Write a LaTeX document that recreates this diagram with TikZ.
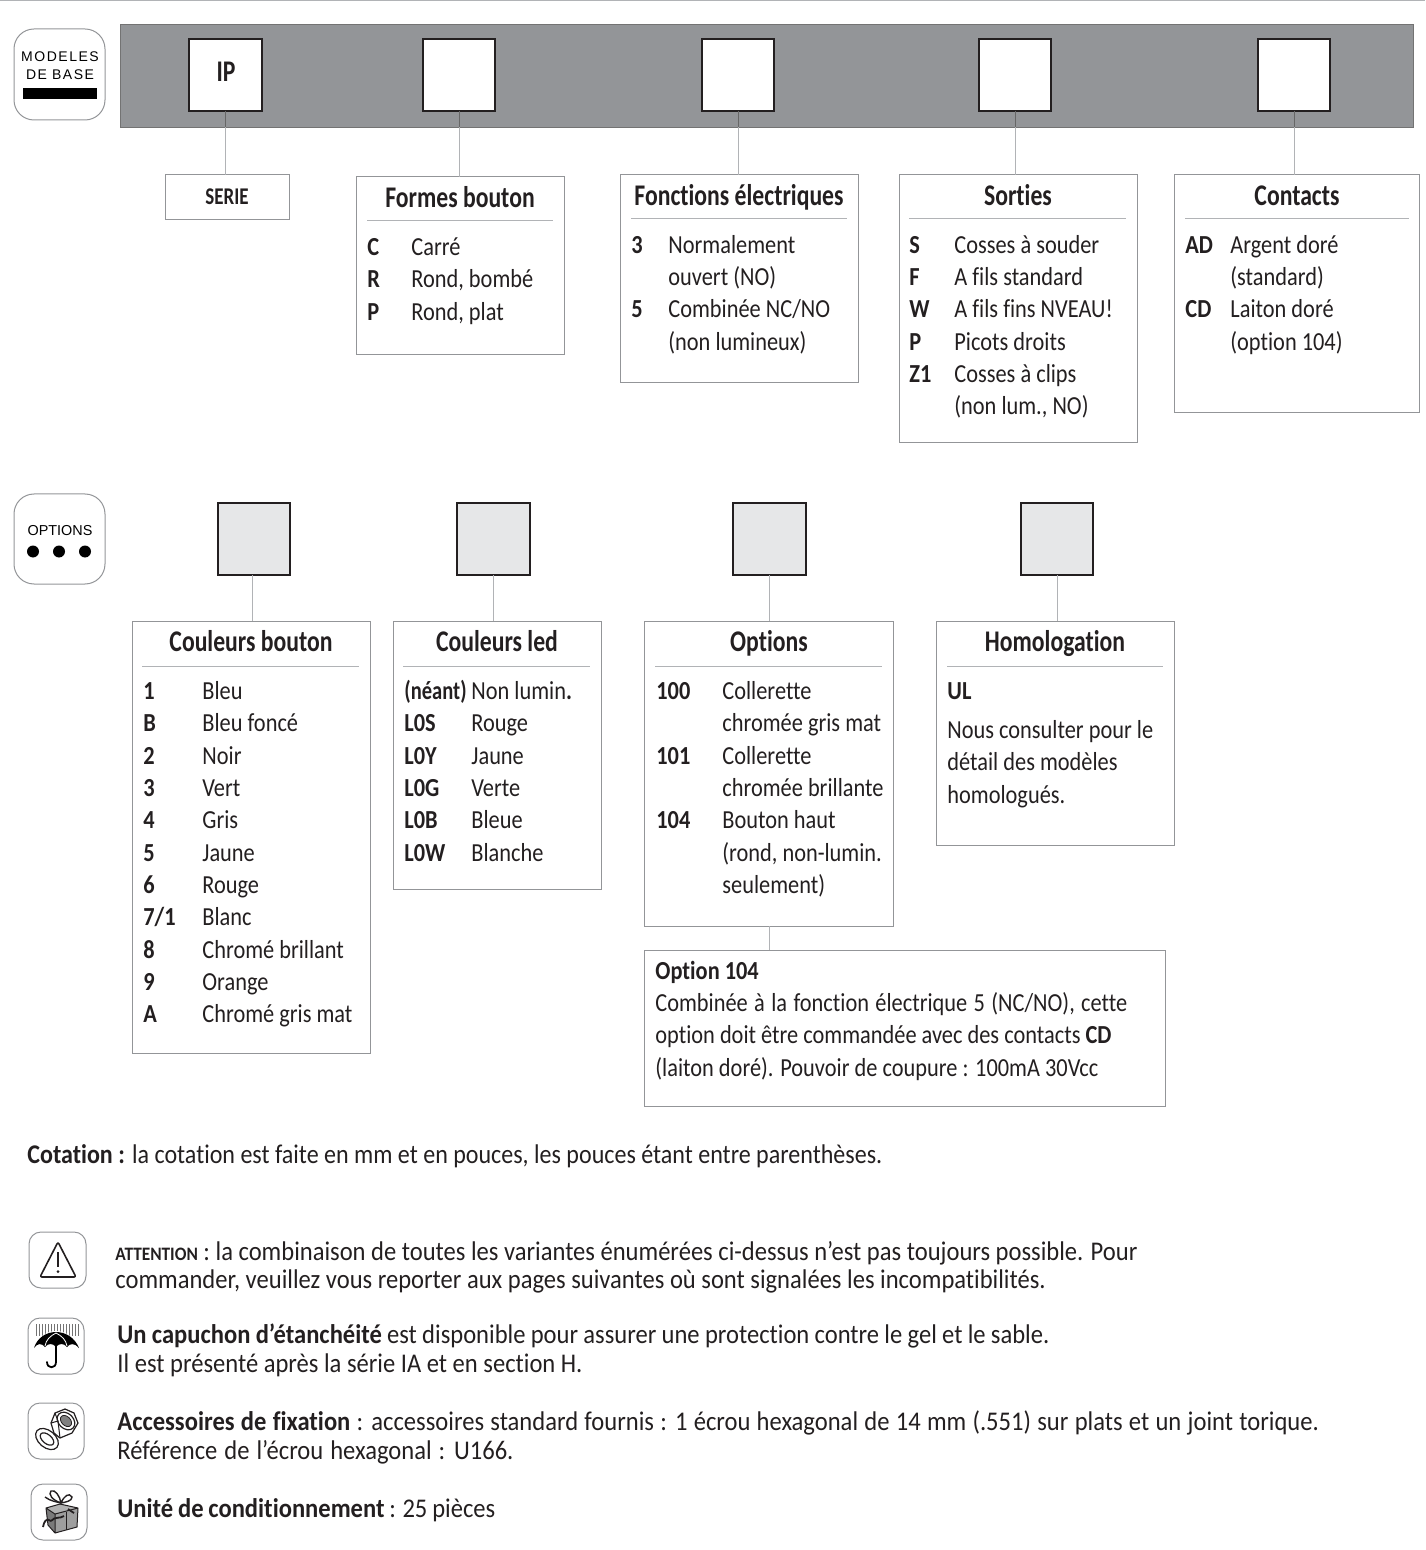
\documentclass[tikz,border=0pt]{standalone}
\usepackage{fontspec}
\setmainfont[FakeStretch=.86,Ligatures=NoCommon]{Carlito}
\newfontfamily\titlefont[FakeStretch=.79,Ligatures=NoCommon]{Carlito}
\newfontfamily\footfont[FakeStretch=.91,Ligatures=NoCommon]{Carlito}
\newfontfamily\cotefont[FakeStretch=.89,Ligatures=NoCommon]{Carlito}
\newfontfamily\headfont[LetterSpace=11]{Liberation Sans}
\newfontfamily\optfont{Liberation Sans}
\definecolor{bandgray}{HTML}{939598}
\definecolor{sqgray}{HTML}{E6E7E8}
\definecolor{linegray}{HTML}{939598}
\definecolor{linklight}{HTML}{B1B3B6}
\definecolor{inkblk}{HTML}{231F20}
\usetikzlibrary{fit}
\tikzset{
  panelbox/.style = {draw=linegray,line width=.5pt,inner sep=0pt,outer sep=0pt},
  sqbox/.style    = {draw=inkblk,line width=1.4pt,fill=white,inner sep=0pt,outer sep=0pt},
  optsq/.style    = {sqbox,fill=sqgray},
  iconbox/.style  = {draw=linegray,line width=.5pt,rounded corners=6pt,inner sep=0pt,outer sep=0pt},
  tagbox/.style   = {iconbox,rounded corners=10pt},
  link/.style     = {draw=linklight,line width=.5pt},
  linkdark/.style = {draw=black!60,line width=.5pt},
  headrule/.style = {draw=linklight,line width=.5pt},
  titletxt/.style = {anchor=base,inner sep=0pt,yshift=-.4pt,font=\titlefont\fontsize{15}{16}\selectfont\bfseries,text=inkblk},
  keytxt/.style   = {anchor=base west,inner sep=0pt,yshift=-.4pt,font=\fontsize{13}{16}\selectfont\bfseries,text=inkblk},
  valtxt/.style   = {anchor=base west,inner sep=0pt,yshift=-.4pt,font=\fontsize{13}{16}\selectfont,text=inkblk},
  foottxt/.style  = {anchor=base west,inner sep=0pt,yshift=-.4pt,font=\footfont\fontsize{13.5}{14.5}\selectfont,text=inkblk},
}
\begin{document}
\begin{tikzpicture}[x=.5pt,y=-.5pt]
  \useasboundingbox (0,0) rectangle (1425,1550);
  \fill[linklight] (0,0) rectangle (1425,1.5);

  % Base models strip
  \node[tagbox,fit={(14,29)(105,120)}] (basetag) {};
  \node[anchor=base,inner sep=0pt,font=\headfont\fontsize{7}{8}\selectfont] (basea) at (60,62) {MODELES};
  \node[anchor=base,inner sep=0pt,font=\headfont\fontsize{7}{8}\selectfont] (baseb) at (60,80) {DE\hspace{2.5pt}BASE};
  \node[fill=black,inner sep=0pt,fit={(23,88)(97,99)}] (basebar) {};
  \node[draw=black!55,line width=.4pt,fill=bandgray,inner sep=0pt,fit={(120,24)(1413,127)}] (band) {};
  \node[sqbox,fit={(189,39)(262,111)}] (sqa) {};
  \node[sqbox,fit={(423,39)(495,111)}] (sqb) {};
  \node[sqbox,fit={(702,39)(774,111)}] (sqc) {};
  \node[sqbox,fit={(979,39)(1051,111)}] (sqd) {};
  \node[sqbox,fit={(1258,39)(1330,111)}] (sqe) {};
  \node[titletxt] (iptxt) at (226,81) {IP};

  \node[panelbox,fit={(165,175)(289,220)}] (serie) {};
  \node[panelbox,fit={(356,177)(564,355)}] (formes) {};
  \node[panelbox,fit={(620,175)(858,383)}] (fonctions) {};
  \node[panelbox,fit={(899,175)(1137,443)}] (sorties) {};
  \node[panelbox,fit={(1174,175)(1419,413)}] (contacts) {};

  \foreach \a/\b in {sqa/serie,sqb/formes,sqc/fonctions,sqd/sorties,sqe/contacts}{
    \draw[linkdark] (\a.south) -- (\a.south |- band.south);
    \draw[link] (\a.south |- band.south) -- (\a.south |- \b.north);
  }

  \node[titletxt,font=\titlefont\fontsize{12}{13}\selectfont\bfseries] (serietxt) at (227,204) {SERIE};
  \node[titletxt] (formest) at (460,207) {Formes bouton};
  \node[titletxt] (fonctionst) at (739,205) {Fonctions électriques};
  \node[titletxt] (sortiest) at (1018,205) {Sorties};
  \node[titletxt] (contactst) at (1297,205) {Contacts};
  \draw[headrule] (367,221) -- (553,221);
  \draw[headrule] (631,219) -- (847,219);
  \draw[headrule] (909,219) -- (1126,219);
  \draw[headrule] (1185,219) -- (1409,219);

  \foreach \k/\v/\y [count=\i] in {C/Carré/255,R/{Rond, bombé}/287,P/{Rond, plat}/320}{
    \node[keytxt] (fk\i) at (367,\y) {\k};
    \node[valtxt] (fv\i) at (411,\y) {\v};
  }
  \foreach \k/\v/\y [count=\i] in {3/Normalement/253,/ouvert (NO)/285,5/{Combinée NC/NO}/317,/(non lumineux)/350}{
    \node[keytxt] (ek\i) at (631,\y) {\k};
    \node[valtxt] (ev\i) at (668,\y) {\v};
  }
  \foreach \k/\v/\y [count=\i] in {S/Cosses à souder/253,F/A fils standard/285,W/A fils fins NVEAU!/317,P/Picots droits/350,Z1/Cosses à clips/382,/{(non lum., NO)}/414}{
    \node[keytxt] (sk\i) at (909,\y) {\k};
    \node[valtxt] (sv\i) at (954,\y) {\v};
  }
  \foreach \k/\v/\y [count=\i] in {AD/Argent doré/253,/(standard)/285,CD/Laiton doré/317,/(option 104)/350}{
    \node[keytxt] (ck\i) at (1185,\y) {\k};
    \node[valtxt] (cv\i) at (1230,\y) {\v};
  }

  % Options strip
  \node[tagbox,fit={(14,494)(105,584)}] (opttag) {};
  \node[anchor=base,inner sep=0pt,font=\optfont\fontsize{7.2}{8}\selectfont] (opttxt) at (60,536) {OPTIONS};
  \foreach \x/\n in {33/a,59/b,85/c}
    \fill[black] (\x,551.5) circle (6) node (dot\n) {};

  \node[optsq,fit={(218,503)(290,575)}] (osa) {};
  \node[optsq,fit={(457,503)(530,575)}] (osb) {};
  \node[optsq,fit={(733,503)(806,575)}] (osc) {};
  \node[optsq,fit={(1021,503)(1093,575)}] (osd) {};

  \node[panelbox,fit={(132,621)(370,1053)}] (bouton) {};
  \node[panelbox,fit={(393,621)(601,889)}] (led) {};
  \node[panelbox,fit={(644,621)(893,926)}] (options) {};
  \node[panelbox,fit={(936,621)(1174,845)}] (homolog) {};
  \node[panelbox,fit={(644,950)(1165,1106)}] (optnote) {};

  \draw[link] ([xshift=-1pt]osa.south) -- ([xshift=-1pt]osa.south |- bouton.north);
  \foreach \a/\b in {osb/led,osc/options,osd/homolog}
    \draw[link] (\a.south) -- (\a.south |- \b.north);
  \draw[link] (options.south -| osc.south) -- (osc.south |- optnote.north);

  \node[titletxt] (boutont) at (251,651) {Couleurs bouton};
  \node[titletxt] (ledt) at (497,651) {Couleurs led};
  \node[titletxt] (optionst) at (769,651) {Options};
  \node[titletxt] (homologt) at (1055,651) {Homologation};
  \draw[headrule] (142,666) -- (359,666);
  \draw[headrule] (403,666) -- (590,666);
  \draw[headrule] (655,666) -- (882,666);
  \draw[headrule] (947,666) -- (1163,666);

  \foreach \k/\v/\y [count=\i] in {1/Bleu/699,B/Bleu foncé/731,2/Noir/764,3/Vert/796,4/Gris/828,5/Jaune/861,6/Rouge/893,{7/1}/Blanc/925,8/Chromé brillant/958,9/Orange/990,A/Chromé gris mat/1022}{
    \node[keytxt] (bk\i) at (143,\y) {\k};
    \node[valtxt] (bv\i) at (202,\y) {\v};
  }
  \foreach \k/\v/\y [count=\i] in {{\titlefont(néant)}/{Non lumin\textbf{.}}/699,L0S/Rouge/731,L0Y/Jaune/764,L0G/Verte/796,L0B/Bleue/828,L0W/Blanche/861}{
    \node[keytxt] (lk\i) at (404,\y) {\k};
    \node[valtxt] (lv\i) at (471,\y) {\v};
  }
  \foreach \k/\v/\y [count=\i] in {100/Collerette/699,/chromée gris mat/731,101/Collerette/764,/chromée brillante/796,104/Bouton haut/828,/{(rond, non-lumin.}/861,/seulement)/893}{
    \node[keytxt] (ok\i) at (656,\y) {\k};
    \node[valtxt] (ov\i) at (722,\y) {\v};
  }
  \node[keytxt] (ulk) at (947,699) {UL};
  \foreach \v/\y [count=\i] in {Nous consulter pour le/738,détail des modèles/770,homologués./803}
    \node[valtxt] (ul\i) at (947,\y) {\v};

  \node[keytxt] (notek) at (655,979) {Option 104};
  \node[valtxt] (notea) at (655,1011) {\spaceskip=3.2pt Combinée à la fonction électrique 5 (NC/NO), cette};
  \node[valtxt] (noteb) at (655,1043) {option doit être commandée avec des contacts \textbf{CD}};
  \node[valtxt] (notec) at (655,1076) {(laiton doré). Pouvoir de coupure : 100mA 30Vcc};

  % Notes at the foot
  \node[foottxt,font=\cotefont\fontsize{13.5}{14.5}\selectfont] (cotation) at (27,1163) {\textbf{Cotation :} la cotation est faite en mm et en pouces, les pouces étant entre parenthèses.};

  \node[iconbox,fit={(29,1232)(86,1288)}] (warnicon) {};
  \node[iconbox,fit={(28,1318)(84,1374)}] (rainicon) {};
  \node[iconbox,fit={(28,1403)(84,1459)}] (nuticon) {};
  \node[iconbox,fit={(31,1484)(87,1540)}] (gifticon) {};

  \node[foottxt] (warna) at (115,1260) {{\fontsize{9.5}{10}\selectfont\bfseries ATTENTION} : la combinaison de toutes les variantes énumérées ci-dessus n’est pas toujours possible. Pour};
  \node[foottxt] (warnb) at (115,1288) {commander, veuillez vous reporter aux pages suivantes où sont signalées les incompatibilités.};
  \node[foottxt] (raina) at (117,1343) {\spaceskip=2.65pt \textbf{Un capuchon d’étanchéité} est disponible pour assurer une protection contre le gel et le sable.};
  \node[foottxt] (rainb) at (117,1372) {Il est présenté après la série IA et en section H.};
  \node[foottxt] (nuta) at (117,1430) {\spaceskip=3.15pt \textbf{Accessoires de fixation} : accessoires standard fournis : 1 écrou hexagonal de 14 mm (.551) sur plats et un joint torique.};
  \node[foottxt] (nutb) at (117,1459) {\spaceskip=3.5pt Référence de l’écrou hexagonal : U166.};
  \node[foottxt] (gifta) at (117,1517) {\spaceskip=2.4pt \textbf{Unité de conditionnement} : 25 pièces};

  % Warning triangle
  \draw[inkblk,line width=.8pt,line join=round,rounded corners=1pt] (58,1242) -- (76,1277) -- (40,1277) -- cycle;
  \draw[inkblk,line width=.9pt] (58,1252) -- (58,1267);
  \fill[inkblk] (58,1271.5) circle (1.5);

  % Umbrella with rain
  \foreach \x in {36,39,...,78}
    \draw[black!55,line width=.3pt] (\x,1324) -- (\x,1336);
  \fill[white] (34,1348) .. controls (37,1338) and (46,1331) .. (56,1331) .. controls (66,1331) and (75,1338) .. (79,1348) -- cycle;
  \fill[black] (34,1348) .. controls (37,1338) and (46,1332) .. (56,1332)
     .. controls (66,1332) and (75,1338) .. (79,1348)
     .. controls (75,1343) and (70,1343) .. (67,1347)
     .. controls (64,1343) and (59,1343) .. (56,1347)
     .. controls (53,1343) and (48,1343) .. (45,1347)
     .. controls (42,1343) and (37,1343) .. (34,1348) -- cycle;
  \draw[white,line width=.4pt] (56,1333) .. controls (50,1336) and (46,1340) .. (45,1346);
  \draw[white,line width=.4pt] (56,1333) .. controls (62,1336) and (66,1340) .. (67,1346);
  \draw[black,line width=.9pt,line cap=round] (56,1345) -- (56,1362) .. controls (56,1369) and (47,1369) .. (47,1362);

  % Nut and washer
  \draw[inkblk,line width=.6pt,fill=white,line join=round] (51,1423) -- (55,1413) -- (65,1409) -- (74,1413) -- (78,1423) -- (72,1433) -- (60,1438) -- (54,1433) -- cycle;
  \draw[inkblk,line width=.5pt] (55,1413) -- (58,1421) -- (60,1438) (58,1421) -- (51,1423);
  \draw[inkblk,line width=.6pt,rotate around={-45:(66,1421)}] (66,1421) ellipse (10 and 7.5);
  \fill[black!50,draw=inkblk,line width=.4pt,rotate around={-45:(66,1421)}] (66,1421) ellipse (6.5 and 4.5);
  \draw[inkblk,line width=.6pt,rotate around={-40:(47,1439)}] (47,1439) ellipse (13 and 8.5);
  \draw[inkblk,line width=.6pt,rotate around={-40:(47,1439)}] (47,1439) ellipse (8 and 4.5);

  % Gift box
  \fill[black!52] (46,1508) -- (55,1514) -- (55,1533) -- (48,1525) -- cycle;
  \fill[black!38] (55,1514) -- (78,1508) -- (77,1527) -- (55,1533) -- cycle;
  \fill[black!30] (46,1508) -- (60,1504) -- (78,1508) -- (55,1514) -- cycle;
  \draw[inkblk,line width=.5pt,line join=round] (46,1508) -- (60,1504) -- (78,1508) -- (77,1527) -- (55,1533) -- (48,1525) -- cycle (46,1508) -- (55,1514) -- (78,1508) (55,1514) -- (55,1533);
  \draw[inkblk,line width=.4pt] (66,1512) -- (66,1530);
  \draw[inkblk,line width=.9pt] (51,1521) .. controls (46,1517) and (44,1522) .. (43,1527);
  \draw[inkblk,line width=.9pt] (51,1521) .. controls (55,1516) and (60,1519) .. (64,1516);
  \draw[inkblk,line width=.7pt] (61,1503) .. controls (52,1500) and (48,1494) .. (51,1491) .. controls (55,1489) and (60,1496) .. (61,1503)
     .. controls (64,1496) and (69,1492) .. (72,1497) .. controls (72,1501) and (66,1502) .. (61,1503);
  \draw[inkblk,line width=.7pt] (61,1503) .. controls (57,1502) and (50,1501) .. (45,1497);
  \draw[inkblk,line width=.9pt] (68,1509) -- (74,1513);
\end{tikzpicture}
\end{document}
